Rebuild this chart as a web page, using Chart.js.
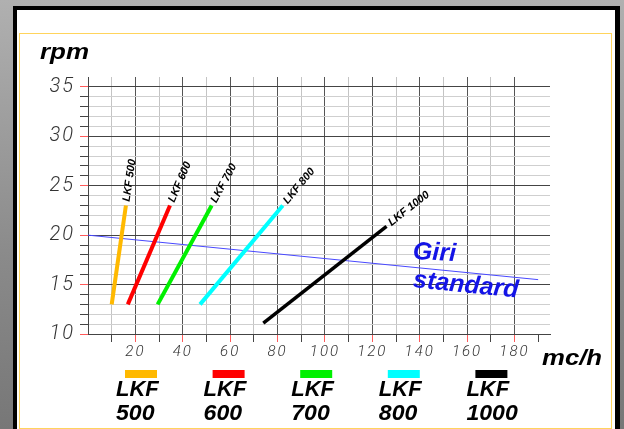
<!DOCTYPE html>
<html>
<head>
<meta charset="utf-8">
<script src="https://cdn.jsdelivr.net/npm/chart.js@4.4.1/dist/chart.umd.min.js"></script>
<style>
  html, body { margin: 0; padding: 0; }
  body { width: 624px; height: 429px; overflow: hidden; position: relative;
         background: linear-gradient(#b0b0b0, #8a8a8a 60%, #777); }
  #frame { position: absolute; left: 13px; top: 6px; width: 598px; height: 440px;
           border: 4px solid #000; border-right-width: 5px; background: #fff; }
  #inner { position: absolute; left: 19px; top: 33px; width: 593px; height: 396px;
           box-sizing: border-box; border: 1px solid #ffd45c; }
  #chart { position: absolute; left: 0; top: 0; }
</style>
</head>
<body>
<div id="frame"></div>
<div id="inner"></div>
<canvas id="chart" width="624" height="429"></canvas>
<script>
// pump curves: flow (mc/h) against speed (rpm)
const seriesNames = ["LKF 500", "LKF 600", "LKF 700", "LKF 800", "LKF 1000"];
const seriesColors = ["#ffb900", "#ff0000", "#00f000", "#00ffff", "#000000"];
const flowStart = [10, 16.8, 29.4, 47.3, 74];
const flowEnd = [16, 34.6, 52.2, 82.2, 126];
const rpmStart = [13, 13, 13, 13, 11.1];
const rpmEnd = [23, 23, 23, 23, 20.9];

// "Giri standard" reference line
const standardFlow = [0, 190];
const standardRpm = [20, 15.5];
const standardLabel = ["Giri", "standard"];
const standardLabelFlow = [137, 137];
const standardLabelRpm = [17.6, 14.75];

const xTicks = [0, 10, 20, 30, 40, 50, 60, 70, 80, 90, 100, 110, 120, 130, 140, 150, 160, 170, 180, 190];
const yTicks = [10, 11, 12, 13, 14, 15, 16, 17, 18, 19, 20, 21, 22, 23, 24, 25, 26, 27, 28, 29, 30, 31, 32, 33, 34, 35];

const TICK_FONT = { family: "Roboto", style: "italic", weight: 300 };
const BOLD = "italic bold {s}px 'Liberation Sans', Arial, sans-serif";

function boldFont(size) {
  return BOLD.replace("{s}", size);
}

function buildDatasets() {
  var sets = seriesNames.map((name, i) => ({
    label: name,
    data: [{ x: flowStart[i], y: rpmStart[i] }, { x: flowEnd[i], y: rpmEnd[i] }],
    borderColor: seriesColors[i],
    borderWidth: i === 4 ? 3.5 : 4,
    borderCapStyle: "butt",
    pointRadius: 0,
    showLine: true
  }));

  sets.push({
    label: "Giri standard",
    data: standardFlow.map((f, i) => ({ x: f, y: standardRpm[i] })),
    borderColor: "#4848ff",
    borderWidth: 1,
    pointRadius: 0,
    showLine: true
  });
  return sets;
}

function drawText(ctx, text, x, y, font, color, angle, stretch) {
  ctx.save();
  ctx.translate(x, y);
  ctx.rotate(angle || 0);
  ctx.scale(stretch || 1, 1);
  ctx.font = font;
  ctx.fillStyle = color;
  ctx.fillText(text, 0, 0);
  ctx.restore();
}

// letter spaced, thin tick labels like the CAD original
const spacingPlugin = {
  id: "spacing",
  beforeDraw(chart) { chart.ctx.letterSpacing = "2px"; },
  beforeDatasetsDraw(chart) { chart.ctx.letterSpacing = "0px"; }
};

const textPlugin = {
  id: "texts",
  afterDatasetsDraw(chart) {
    const ctx = chart.ctx;
    const x = chart.scales.x, y = chart.scales.y;
    const area = chart.chartArea;

    // labels at the top of each curve, following its slope
    seriesNames.forEach((name, i) => {
      var x0 = x.getPixelForValue(flowStart[i]), y0 = y.getPixelForValue(rpmStart[i]);
      var x1 = x.getPixelForValue(flowEnd[i]), y1 = y.getPixelForValue(rpmEnd[i]);
      var angle = Math.atan2(y1 - y0, x1 - x0);
      ctx.save();
      ctx.translate(x1, y1);
      ctx.rotate(angle);
      ctx.font = boldFont(11);
      ctx.fillStyle = "#000";
      ctx.textBaseline = "middle";
      ctx.fillText(name, 4, 0);
      ctx.restore();
    });

    // Giri standard
    drawText(ctx, standardLabel[0], x.getPixelForValue(standardLabelFlow[0]),
      y.getPixelForValue(standardLabelRpm[0]), boldFont(25), "#1414e6", 0.05, 1);
    drawText(ctx, standardLabel[1], x.getPixelForValue(standardLabelFlow[1]),
      y.getPixelForValue(standardLabelRpm[1]), boldFont(25), "#1414e6", 0.1, 1);

    // axis titles
    drawText(ctx, "rpm", area.left - 48, area.top - 18, boldFont(22), "#000", 0, 1.18);
    drawText(ctx, "mc/h", area.right - 8, area.bottom + 31, boldFont(22), "#000", 0, 1.17);

    // legend under the chart
    seriesNames.forEach((name, i) => {
      var left = 116 + i * 87.6;
      var parts = name.split(" ");
      ctx.fillStyle = seriesColors[i];
      ctx.fillRect(left + 9, 370, 32, 8);
      drawText(ctx, parts[0], left, 396, boldFont(22), "#000", 0, 1);
      drawText(ctx, parts[1], left, 420, boldFont(22), "#000", 0, 1.05);
    });
  }
};

new Chart("chart", {
  type: "scatter",
  data: { datasets: buildDatasets() },
  options: {
    responsive: false,
    animation: false,
    events: [],
    layout: { padding: { left: 20, right: 74, top: 77, bottom: 65 } },
    plugins: { legend: { display: false }, tooltip: { enabled: false } },
    scales: {
      x: {
        type: "linear",
        min: 0,
        max: 195,
        afterBuildTicks: scale => { scale.ticks = xTicks.map(v => ({ value: v })); },
        afterFit: scale => { scale.height = 30; },
        border: { color: "#444", width: 1 },
        grid: {
          color: c => (c.tick.value === 0 || c.tick.value === 190) ? "rgba(0,0,0,0)"
            : (c.tick.value % 20 === 0 ? "#555" : "#c4c4c4"),
          tickColor: c => c.tick.value === 0 ? "rgba(0,0,0,0)"
            : (c.tick.value % 20 === 0 ? "#ff5a5a" : "#444"),
          tickLength: 8
        },
        ticks: {
          autoSkip: false,
          maxRotation: 0,
          padding: 1,
          color: "#333",
          font: Object.assign({ size: 15 }, TICK_FONT),
          callback: v => (v % 20 === 0 && v > 0) ? String(v) : ""
        }
      },
      y: {
        type: "linear",
        min: 10,
        max: 36,
        afterBuildTicks: scale => { scale.ticks = yTicks.map(v => ({ value: v })); },
        afterFit: scale => { scale.width = 68; },
        border: { color: "#444", width: 1 },
        grid: {
          color: c => c.tick.value === 10 ? "rgba(0,0,0,0)"
            : (c.tick.value % 5 === 0 ? "#444" : "#cfcfcf"),
          tickColor: c => c.tick.value % 5 === 0 ? "#ff5a5a" : "#444",
          tickLength: 8
        },
        ticks: {
          autoSkip: false,
          padding: 5,
          color: "#333",
          font: Object.assign({ size: 20 }, TICK_FONT),
          callback: v => v % 5 === 0 ? String(v) : ""
        }
      }
    }
  },
  plugins: [spacingPlugin, textPlugin]
});
</script>
</body>
</html>
